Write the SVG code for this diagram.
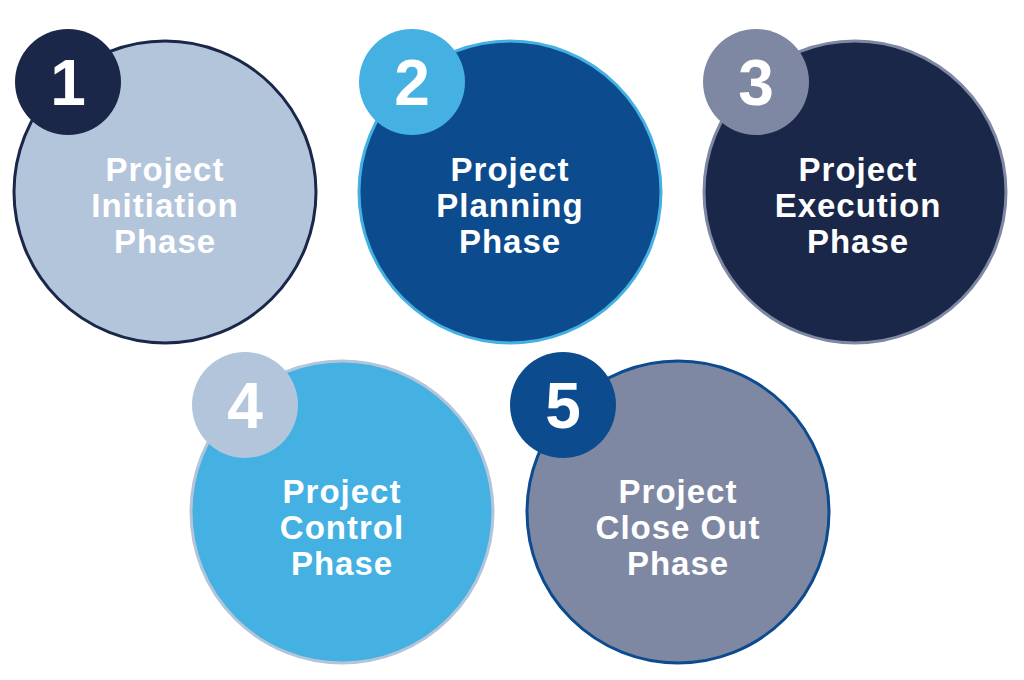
<svg xmlns="http://www.w3.org/2000/svg" width="1024" height="680" viewBox="0 0 1024 680">
<style>
.c{stroke-width:3}
.t{font-family:"Liberation Sans",Arial,sans-serif;font-weight:bold;font-size:33px;fill:#fff;text-anchor:middle;letter-spacing:1px}
.n{font-family:"Liberation Sans",Arial,sans-serif;font-weight:bold;font-size:64px;fill:#fff;text-anchor:middle}
</style>
<rect width="1024" height="680" fill="#fff"/>
<g id="node1">
<circle class="c" cx="165" cy="192" r="151" fill="#b3c5da" stroke="#1a2748"/>
<circle cx="68" cy="82" r="53" fill="#1a2748"/>
<text class="n" x="68" y="105">1</text>
<text class="t" x="165" y="181">Project</text><text class="t" x="165" y="217">Initiation</text><text class="t" x="165" y="253">Phase</text>
</g>
<g id="node2">
<circle class="c" cx="510" cy="192" r="151" fill="#0d4b8f" stroke="#45b0e2"/>
<circle cx="412" cy="82" r="53" fill="#45b0e2"/>
<text class="n" x="412" y="105">2</text>
<text class="t" x="510" y="181">Project</text><text class="t" x="510" y="217">Planning</text><text class="t" x="510" y="253">Phase</text>
</g>
<g id="node3">
<circle class="c" cx="855" cy="192" r="151" fill="#1a2748" stroke="#7e88a3"/>
<circle cx="756" cy="82" r="53" fill="#7e88a3"/>
<text class="n" x="756" y="105">3</text>
<text class="t" x="858" y="181">Project</text><text class="t" x="858" y="217">Execution</text><text class="t" x="858" y="253">Phase</text>
</g>
<g id="node4">
<circle class="c" cx="342" cy="512" r="151" fill="#45b0e2" stroke="#b3c5da"/>
<circle cx="245" cy="405" r="53" fill="#b3c5da"/>
<text class="n" x="245" y="428">4</text>
<text class="t" x="342" y="503">Project</text><text class="t" x="342" y="539">Control</text><text class="t" x="342" y="575">Phase</text>
</g>
<g id="node5">
<circle class="c" cx="678" cy="512" r="151" fill="#7e88a3" stroke="#0d4b8f"/>
<circle cx="563" cy="405" r="53" fill="#0d4b8f"/>
<text class="n" x="563" y="428">5</text>
<text class="t" x="678" y="503">Project</text><text class="t" x="678" y="539">Close Out</text><text class="t" x="678" y="575">Phase</text>
</g>
<g id="connectors"/>
</svg>
